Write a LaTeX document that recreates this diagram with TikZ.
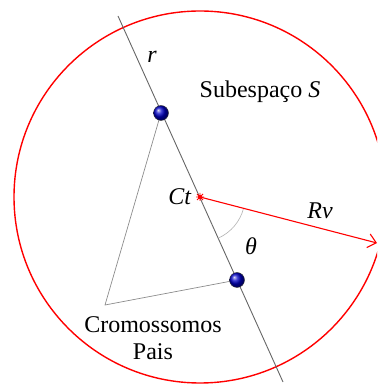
\documentclass[tikz,border=0pt]{standalone}
\usepackage{fontspec}
\setmainfont{Liberation Serif}
\usetikzlibrary{arrows.meta,calc}
\tikzset{
  lbl/.style={font=\fontsize{24}{28}\selectfont, inner sep=0pt},
  ball/.style={circle, minimum size=15pt, inner sep=0pt, draw=black!80, line width=0.4pt, shading=ball, ball color={rgb,255:red,0;green,0;blue,200}},
  rline/.style={draw=black!60, line width=0.9pt},
  tri/.style={draw=black!45, line width=0.7pt},
  redc/.style={draw=red, line width=1.4pt},
}
\begin{document}
\begin{tikzpicture}[x=1pt,y=1pt]
\useasboundingbox (0,0) rectangle (377,385);
\clip (0,0) rectangle (377,385);
\coordinate (ct) at (200,188);
\coordinate (rtop) at (118,369);
\coordinate (rbot) at (283,3);
\coordinate (pv) at (105,80);
\coordinate (rvend) at (377,142);
% circle
\draw[redc] (ct) circle (186);
% line r
\draw[rline] (rtop) -- (rbot);
% triangle
\coordinate (d1) at (161,272);
\coordinate (d2) at (237,105);
\draw[tri] (d1) -- (pv) -- (d2);
% angle arc
\draw[draw=black!30, line width=0.6pt] ($(ct)+(-14.3:45)$) arc (-14.3:-65.8:45);
% arrow Rv
\draw[red, line width=1.1pt, -{Straight Barb[length=8pt,width=14pt]}] (ct) -- (rvend);
% center marker
\draw[red, line width=0.9pt] ($(ct)+(-4,0)$) -- ($(ct)+(4,0)$) ($(ct)+(0,-4)$) -- ($(ct)+(0,4)$)
  ($(ct)+(-3,-3)$) -- ($(ct)+(3,3)$) ($(ct)+(-3,3)$) -- ($(ct)+(3,-3)$);
\fill[red] (ct) circle (2);
% dots
\node[ball] (b1) at (d1) {};
\node[ball] (b2) at (d2) {};
% labels
\node[lbl] (lr) at (152,328) {\textit{r}};
\node[lbl] (lct) at (180,188) {\textit{Ct}};
\node[lbl] (lrv) at (320,174) {\textit{Rv}};
\node[lbl] (lth) at (251,139) {\textit{θ}};
\node[lbl] (ls) at (260,293) {Subespaço \textit{S}};
\node[lbl] (lc) at (153,60) {Cromossomos};
\node[lbl] (lp) at (153,33) {Pais};
\end{tikzpicture}
\end{document}
